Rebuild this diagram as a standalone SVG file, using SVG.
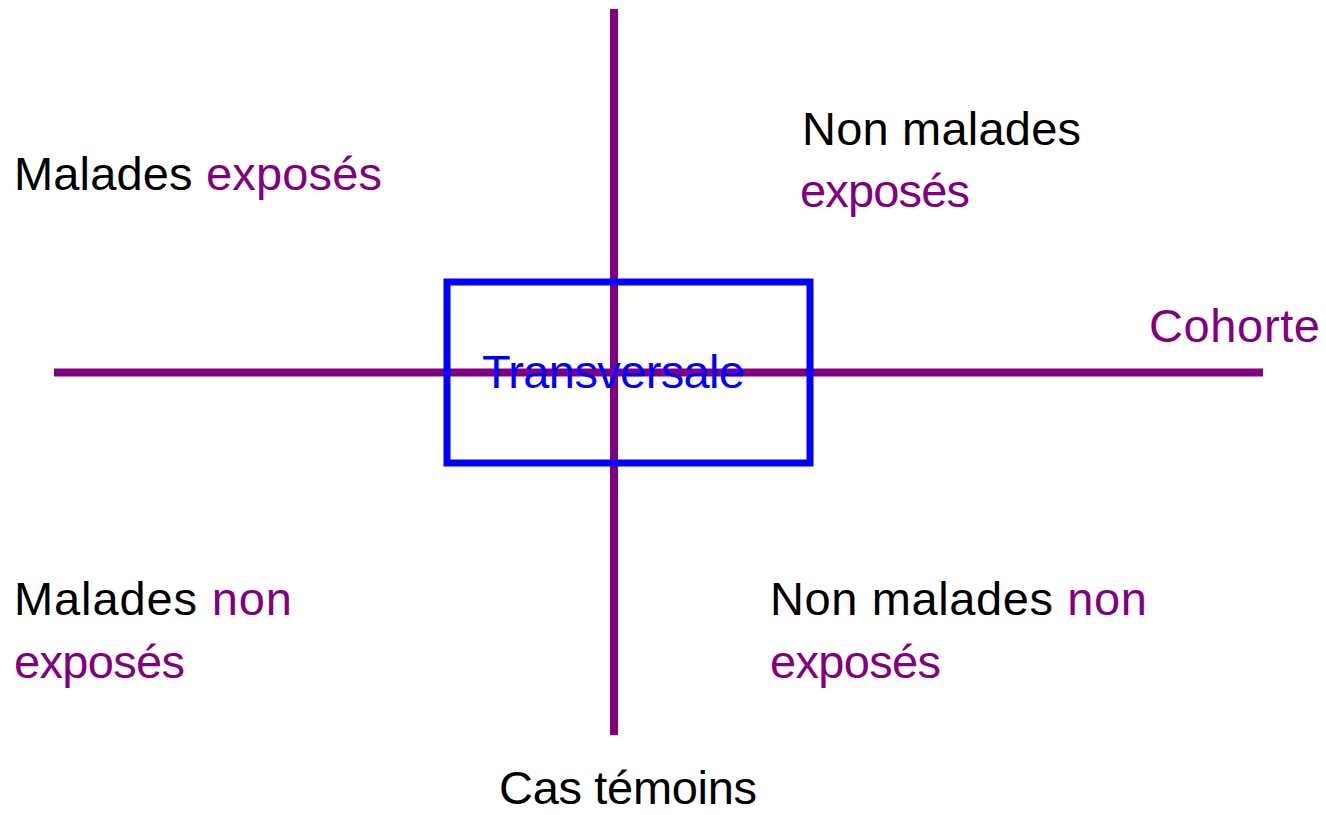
<svg xmlns="http://www.w3.org/2000/svg" width="1326" height="815" viewBox="0 0 1326 815">
  <style>
    text { font-family: "Liberation Sans", Arial, sans-serif; font-size: 47px; fill: #000000; }
    .p { fill: #800080; }
    .b { fill: #0000FF; }
    .axis { stroke: #800080; stroke-width: 8; fill: none; }
    .box { stroke: #0000FF; stroke-width: 7; fill: none; }
  </style>
  <rect x="0" y="0" width="1326" height="815" fill="#FFFFFF"/>
  <g id="connectors">
    <line class="axis" x1="614" y1="9" x2="614" y2="735"/>
    <line class="axis" x1="54" y1="372.5" x2="1263" y2="372.5"/>
  </g>
  <g id="transversale">
    <rect class="box" x="447" y="282" width="363" height="181"/>
    <text class="b" x="482" y="388" textLength="263">Transversale</text>
  </g>
  <g id="malades-exposes">
    <text x="14" y="190" textLength="368">Malades <tspan class="p">exposés</tspan></text>
  </g>
  <g id="non-malades-exposes">
    <text x="802" y="145" textLength="279">Non malades</text>
    <text class="p" x="800" y="207" textLength="170">exposés</text>
  </g>
  <g id="cohorte">
    <text class="p" x="1149" y="342" textLength="171">Cohorte</text>
  </g>
  <g id="malades-non-exposes">
    <text x="14" y="615" textLength="278">Malades <tspan class="p">non</tspan></text>
    <text class="p" x="14" y="678" textLength="171">exposés</text>
  </g>
  <g id="non-malades-non-exposes">
    <text x="770" y="615" textLength="377">Non malades <tspan class="p">non</tspan></text>
    <text class="p" x="770" y="678" textLength="171">exposés</text>
  </g>
  <g id="cas-temoins">
    <text x="499" y="804" textLength="258">Cas témoins</text>
  </g>
</svg>
